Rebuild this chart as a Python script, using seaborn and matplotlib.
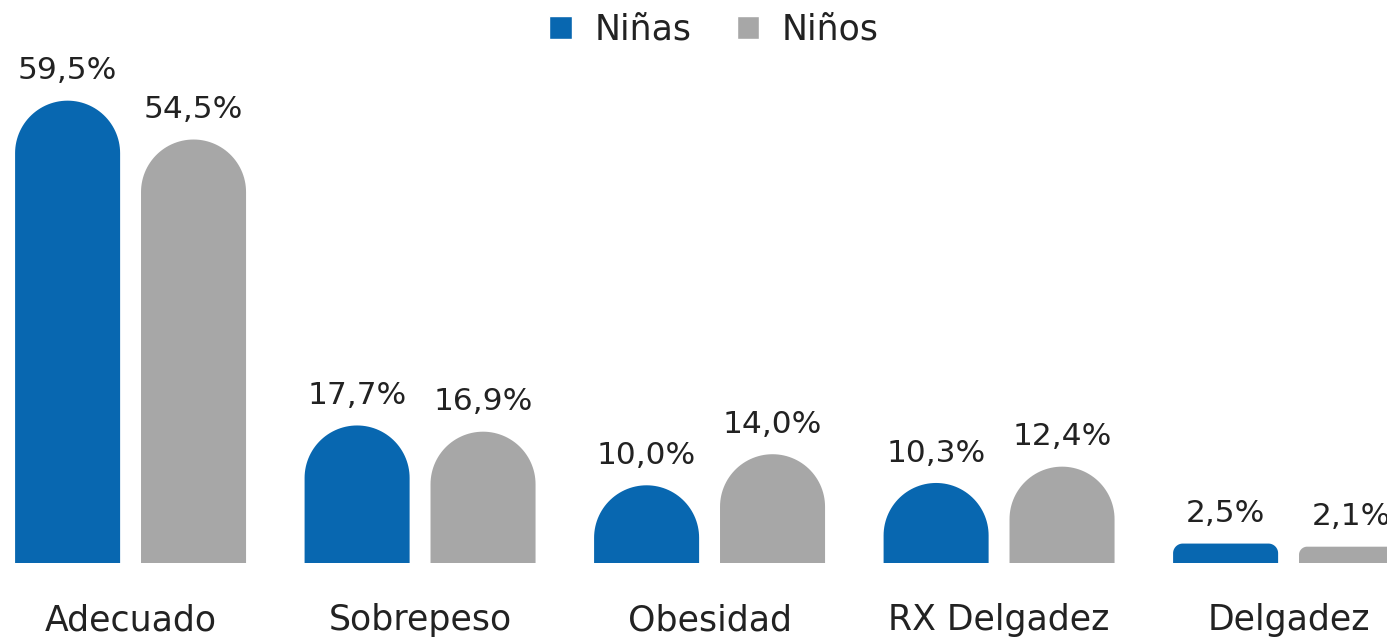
import numpy as np
import pandas as pd
import matplotlib
matplotlib.use("Agg")
import matplotlib.pyplot as plt
from matplotlib.path import Path
from matplotlib.patches import PathPatch
import seaborn as sns

# datos
categorias = ["Adecuado", "Sobrepeso", "Obesidad", "RX Delgadez", "Delgadez"]
ninas = [59.5, 17.7, 10.0, 10.3, 2.5]
ninos = [54.5, 16.9, 14.0, 12.4, 2.1]
grupos = ["Niñas", "Niños"]
colores = ["#0867B0", "#A7A7A7"]

df = pd.DataFrame({
    "categoria": categorias * 2,
    "grupo": [grupos[0]] * len(categorias) + [grupos[1]] * len(categorias),
    "valor": ninas + ninos,
})

sns.set_theme(style="white")
plt.rcParams["font.family"] = ["DejaVu Sans"]

W, H = 1387, 639
fig = plt.figure(figsize=(W / 100, H / 100), dpi=100)
ax = fig.add_axes([0, 1 - 563 / H, 1, (563 - 35) / H])

sns.barplot(data=df, x="categoria", y="valor", hue="grupo", hue_order=grupos,
            palette=colores, width=0.87, gap=0.166, saturation=1, ax=ax)

ax.set_xlim(-0.451, 4.340)
ax.set_ylim(0, 67.95)

# tamaño de un pixel en coordenadas de datos
px_x = (ax.get_xlim()[1] - ax.get_xlim()[0]) / (W * 1.0)
px_y = (ax.get_ylim()[1] - ax.get_ylim()[0]) / (563 - 35)

# barras con la parte superior redondeada
for p in list(ax.patches):
    x0, w, h = p.get_x(), p.get_width(), p.get_height()
    if h <= 0:
        continue
    w_px, h_px = w / px_x, h / px_y
    r_px = w_px / 2 if h_px >= w_px / 2 else h_px / 2
    rx, ry = r_px * px_x, r_px * px_y
    x1 = x0 + w
    t1 = np.linspace(np.pi, np.pi / 2, 30)
    t2 = np.linspace(np.pi / 2, 0, 30)
    verts = [(x0, 0), (x0, h - ry)]
    verts += list(zip(x0 + rx + rx * np.cos(t1), h - ry + ry * np.sin(t1)))
    verts += list(zip(x1 - rx + rx * np.cos(t2), h - ry + ry * np.sin(t2)))
    verts += [(x1, 0), (x0, 0)]
    codes = [Path.MOVETO] + [Path.LINETO] * (len(verts) - 2) + [Path.CLOSEPOLY]
    ax.add_patch(PathPatch(Path(verts, codes), facecolor=p.get_facecolor(),
                           edgecolor="none", clip_on=False))
    p.set_visible(False)
    etiqueta = f"{h:.1f}".replace(".", ",") + "%"
    ax.annotate(etiqueta, (x0 + w / 2, h), xytext=(0, 11), textcoords="offset points",
                ha="center", va="bottom", fontsize=22.5, color="#222222",
                annotation_clip=False)

sns.despine(ax=ax, left=True, bottom=True)
ax.set_yticks([])
ax.set_xlabel("")
ax.set_ylabel("")
ax.tick_params(axis="x", length=0, pad=29, labelsize=25, labelcolor="#222222")

sns.move_legend(ax, "center", bbox_to_anchor=(714 / W, 1 - 30 / H),
                bbox_transform=fig.transFigure, ncol=2, frameon=False, title=None,
                fontsize=25, handlelength=0.65, handleheight=0.65,
                columnspacing=1.3, handletextpad=0.65)
for t in ax.get_legend().get_texts():
    t.set_color("#222222")

fig.savefig("out.png", dpi=100)
